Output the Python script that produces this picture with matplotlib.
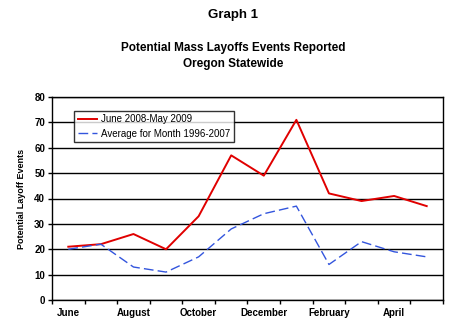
import numpy as np
import matplotlib.pyplot as plt

plt.rcParams['font.family'] = ['Liberation Sans', 'DejaVu Sans']

months = ['June', 'July', 'August', 'September', 'October', 'November',
          'December', 'January', 'February', 'March', 'April', 'May']
current = [21, 22, 26, 20, 33, 57, 49, 71, 42, 39, 41, 37]
average = [20, 22, 13, 11, 17, 28, 34, 37, 14, 23, 19, 17]

fig = plt.figure(figsize=(4.54, 3.3), dpi=100)
ax = fig.add_axes([52/454, 1 - 300/330, 391/454, 203/330])

x = np.arange(len(months))
ax.plot(x, current, color='#e00000', lw=1.4, label='June 2008-May 2009')
ax.plot(x, average, color='#3355dd', lw=1.0, dashes=(7, 3),
        label='Average for Month 1996-2007')

ax.set_xlim(-0.5, len(months) - 0.5)
ax.set_ylim(0, 80)
ax.set_yticks(range(0, 81, 10))
ax.yaxis.grid(True, color='black', lw=1.0)
ax.set_axisbelow(True)

ax.set_xticks(x[::2])
ax.set_xticklabels(months[::2])
ax.set_xticks(np.arange(-0.5, len(months), 1), minor=True)
ax.tick_params(axis='x', which='major', length=0, pad=6)
ax.tick_params(axis='x', which='minor', length=3, direction='out', width=1)
ax.tick_params(axis='y', length=3, width=1, pad=2)
for lbl in ax.get_xticklabels() + ax.get_yticklabels():
    lbl.set_fontsize(7)
    lbl.set_fontweight('bold')
for s in ax.spines.values():
    s.set_linewidth(1.0)

ax.set_ylabel('Potential Layoff Events', fontsize=6.5, fontweight='bold', labelpad=6)

leg = ax.legend(loc='upper left', bbox_to_anchor=(0.045, 0.955), fontsize=7,
                frameon=True, fancybox=False, edgecolor='black',
                handlelength=2.0, handletextpad=0.4, borderpad=0.35,
                labelspacing=0.45)
leg.get_frame().set_linewidth(1.0)

fig.text(0.513, 1 - 15/330, 'Graph 1', ha='center', va='center',
         fontsize=9.5, fontweight='bold')
fig.text(0.513, 1 - 48/330, 'Potential Mass Layoffs Events Reported',
         ha='center', va='center', fontsize=8.5, fontweight='bold')
fig.text(0.513, 1 - 64/330, 'Oregon Statewide',
         ha='center', va='center', fontsize=8.5, fontweight='bold')

fig.savefig('out.png', dpi=100)
